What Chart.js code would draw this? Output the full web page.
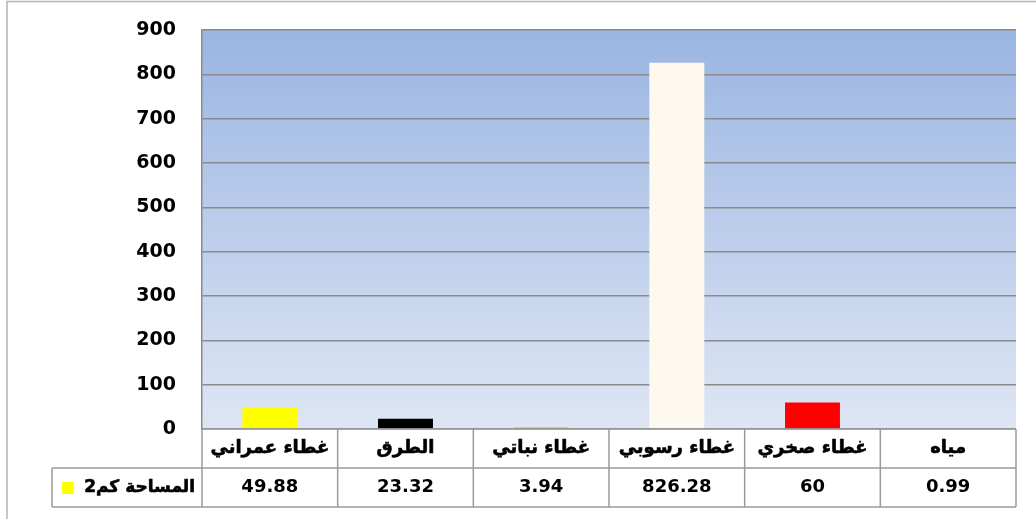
<!DOCTYPE html>
<html><head><meta charset="utf-8">
<script src="https://cdn.jsdelivr.net/npm/chart.js@4.4.1/dist/chart.umd.min.js"></script>
<style>html,body{margin:0;padding:0;background:#fff}#wrap{width:1036px;height:519px;position:relative}</style>
</head><body><div id="wrap"><canvas id="c" width="1036" height="519"></canvas></div>
<script>
const categories = ['غطاء عمراني','الطرق','غطاء نباتي','غطاء رسوبي','غطاء صخري','مياه'];
const values = [49.88, 23.32, 3.94, 826.28, 60, 0.99];
const valueLabels = ['49.88','23.32','3.94','826.28','60','0.99'];
const barColors = ['#FFFF00','#000000','#80FF00','#FEF9EE','#FF0000','#5B7FA6'];
const seriesName = 'المساحة كم2';
const yMin = 0, yMax = 900, yStep = 100;

const lineCol = '#9a9a9a';
const arabicFont = '"DejaVu Sans", sans-serif';
const numFont = '"DejaVu Sans", sans-serif';

function boldText(ctx, txt, x, y, w) {
  ctx.lineWidth = w;
  ctx.strokeStyle = ctx.fillStyle;
  ctx.lineJoin = 'round';
  ctx.strokeText(txt, x, y);
  ctx.fillText(txt, x, y);
}

const tablePlugin = {
  id: 'tablePlugin',
  beforeDraw(chart) {
    const ctx = chart.ctx, a = chart.chartArea;
    ctx.save();
    ctx.fillStyle = '#fff';
    ctx.fillRect(0, 0, chart.width, chart.height);
    const g = ctx.createLinearGradient(0, a.top, 0, a.bottom);
    g.addColorStop(0, '#9AB5E2');
    g.addColorStop(1, '#DEE6F4');
    ctx.fillStyle = g;
    ctx.fillRect(a.left, a.top, a.right - a.left, a.bottom - a.top);
    ctx.restore();
  },
  afterDraw(chart) {
    const ctx = chart.ctx, a = chart.chartArea, xs = chart.scales.x;
    const n = categories.length;
    const colW = (a.right - a.left) / n;
    const y0 = a.bottom, y1 = y0 + 39, y2 = y1 + 39;
    const legL = 52;
    ctx.save();
    ctx.strokeStyle = lineCol;
    ctx.lineWidth = 1.5;
    ctx.beginPath();
    ctx.moveTo(a.left, y0); ctx.lineTo(a.right, y0);
    ctx.moveTo(legL, y1); ctx.lineTo(a.right, y1);
    ctx.moveTo(legL, y2); ctx.lineTo(a.right, y2);
    for (let i = 0; i <= n; i++) {
      const x = a.left + i * colW;
      ctx.moveTo(x, y0); ctx.lineTo(x, y2);
    }
    ctx.moveTo(legL, y1); ctx.lineTo(legL, y2);
    ctx.stroke();

    // outer frame
    ctx.strokeStyle = '#b4b4b4';
    ctx.lineWidth = 1.5;
    ctx.beginPath();
    ctx.moveTo(7, 519); ctx.lineTo(7, 1.5); ctx.lineTo(1036, 1.5);
    ctx.stroke();

    ctx.fillStyle = '#000';
    ctx.textAlign = 'center';
    ctx.textBaseline = 'middle';
    for (let i = 0; i < n; i++) {
      const x = xs.getPixelForValue(i);
      ctx.direction = 'rtl';
      ctx.font = 'bold 18px ' + arabicFont;
      boldText(ctx, categories[i], x, (y0 + y1) / 2, 0.6);
      ctx.direction = 'ltr';
      ctx.font = 'bold 18px ' + numFont;
      ctx.fillText(valueLabels[i], x, (y1 + y2) / 2);
    }
    // legend key
    ctx.fillStyle = barColors[0];
    ctx.fillRect(62, 482, 12, 12);
    ctx.fillStyle = '#000';
    ctx.textAlign = 'right';
    ctx.direction = 'rtl';
    ctx.font = 'bold 17px ' + arabicFont;
    boldText(ctx, seriesName, 195, (y1 + y2) / 2, 0.6);
    ctx.restore();
  }
};

new Chart(document.getElementById('c'), {
  type: 'bar',
  data: {
    labels: categories,
    datasets: [{
      label: seriesName,
      data: values,
      backgroundColor: barColors,
      borderWidth: 0,
      categoryPercentage: 1,
      barPercentage: 0.405
    }]
  },
  options: {
    responsive: false,
    animation: false,
    devicePixelRatio: 1,
    layout: { padding: { top: 30, right: 20, bottom: 12, left: 0 } },
    plugins: { legend: { display: false }, tooltip: { enabled: false } },
    scales: {
      x: {
        ticks: { display: false },
        grid: { display: false },
        border: { display: false },
        afterFit(s) { s.height = 78; s.paddingLeft = 0; s.paddingRight = 0; }
      },
      y: {
        min: yMin, max: yMax,
        ticks: { stepSize: yStep, color: '#000', padding: 26, font: { family: numFont, weight: 'bold', size: 19 } },
        grid: { color: '#8a8a8a', lineWidth: 1.5, drawTicks: false },
        border: { display: true, color: '#8a8a8a', width: 1.5 },
        afterFit(s) { s.width = 202; s.paddingTop = 0; s.paddingBottom = 0; }
      }
    }
  },
  plugins: [tablePlugin]
});
</script></body></html>
